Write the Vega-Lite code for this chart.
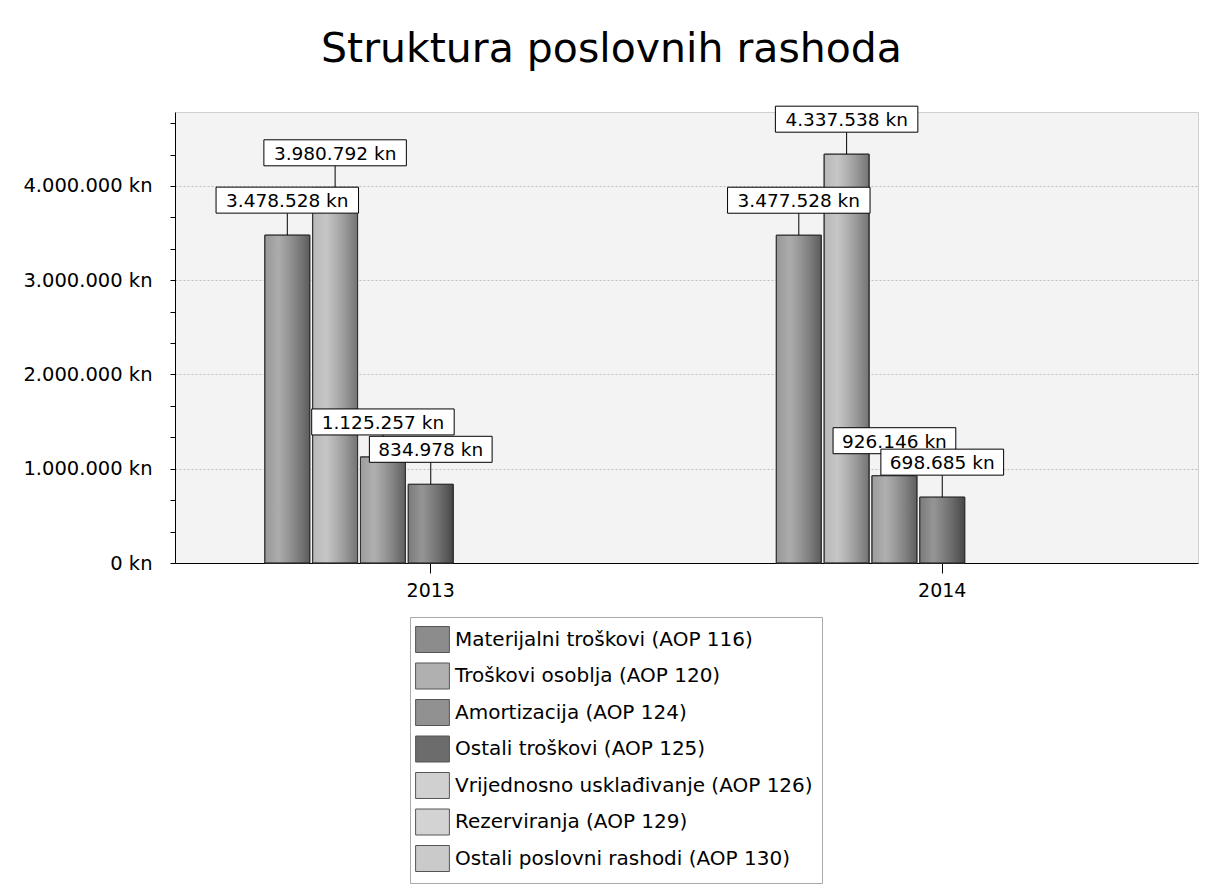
{
  "$schema": "https://vega.github.io/schema/vega-lite/v6.json",
  "width": 1023,
  "height": 451,
  "autosize": "none",
  "padding": {"left": 175, "top": 112, "right": 13, "bottom": 332},
  "background": "white",
  "title": {
    "text": "Struktura poslovnih rashoda",
    "font": "DejaVu Sans",
    "fontSize": 41,
    "fontWeight": "normal",
    "color": "black",
    "anchor": "middle",
    "dx": -75,
    "offset": 33
  },
  "data": {
    "values": [
      {"year": "2013", "series": "Materijalni troškovi (AOP 116)", "value": 3478528, "label": "3.478.528 kn"},
      {"year": "2013", "series": "Troškovi osoblja (AOP 120)", "value": 3980792, "label": "3.980.792 kn"},
      {"year": "2013", "series": "Amortizacija (AOP 124)", "value": 1125257, "label": "1.125.257 kn"},
      {"year": "2013", "series": "Ostali troškovi (AOP 125)", "value": 834978, "label": "834.978 kn"},
      {"year": "2014", "series": "Materijalni troškovi (AOP 116)", "value": 3477528, "label": "3.477.528 kn"},
      {"year": "2014", "series": "Troškovi osoblja (AOP 120)", "value": 4337538, "label": "4.337.538 kn"},
      {"year": "2014", "series": "Amortizacija (AOP 124)", "value": 926146, "label": "926.146 kn"},
      {"year": "2014", "series": "Ostali troškovi (AOP 125)", "value": 698685, "label": "698.685 kn"}
    ]
  },
  "encoding": {
    "x": {
      "field": "year", "type": "nominal",
      "scale": {"paddingInner": 0.34, "paddingOuter": 0.17},
      "axis": {
        "title": null, "labelAngle": 0, "labelFont": "DejaVu Sans", "labelFontSize": 19,
        "labelColor": "black", "tickColor": "black", "tickSize": 10, "domainColor": "black",
        "labelPadding": 8, "grid": false
      }
    },
    "xOffset": {
      "field": "series", "type": "nominal",
      "scale": {
        "domain": ["Materijalni troškovi (AOP 116)", "Troškovi osoblja (AOP 120)", "Amortizacija (AOP 124)", "Ostali troškovi (AOP 125)", "Vrijednosno usklađivanje (AOP 126)", "Rezerviranja (AOP 129)", "Ostali poslovni rashodi (AOP 130)"],
        "paddingInner": 0.06, "paddingOuter": 0.06
      }
    },
    "y": {
      "field": "value", "type": "quantitative",
      "scale": {"domain": [0, 4785000], "nice": false},
      "axis": {
        "title": null,
        "values": [0, 333333, 666667, 1000000, 1333333, 1666667, 2000000, 2333333, 2666667, 3000000, 3333333, 3666667, 4000000, 4333333, 4666667],
        "labelExpr": "datum.value % 1000000 === 0 ? replace(format(datum.value, ','), regexp(',', 'g'), '.') + ' kn' : ''",
        "labelFont": "DejaVu Sans", "labelFontSize": 19.5, "labelColor": "black",
        "tickColor": "black", "domainColor": "black",
        "tickSize": 5,
        "labelPadding": 18,
        "grid": true, "gridColor": "#bdbdbd", "gridDash": [2, 2],
        "gridOpacity": {"condition": {"test": "datum.value % 1000000 === 0", "value": 1}, "value": 0}
      }
    }
  },
  "layer": [
    {
      "mark": {"type": "bar", "stroke": "#333333", "strokeWidth": 1},
      "encoding": {
        "color": {
          "field": "series", "type": "nominal",
          "scale": {
            "domain": ["Materijalni troškovi (AOP 116)", "Troškovi osoblja (AOP 120)", "Amortizacija (AOP 124)", "Ostali troškovi (AOP 125)", "Vrijednosno usklađivanje (AOP 126)", "Rezerviranja (AOP 129)", "Ostali poslovni rashodi (AOP 130)"],
            "range": ["#8c8c8c", "#b0b0b0", "#919191", "#6c6c6c", "#d0d0d0", "#d3d3d3", "#cacaca"]
          },
          "legend": {
            "title": null, "orient": "none", "legendX": 235, "legendY": 505,
            "direction": "vertical",
            "labelFont": "DejaVu Sans", "labelFontSize": 20, "labelColor": "black",
            "labelLimit": 450, "labelOffset": 9,
            "symbolType": "M-1.3,-1H1.3V1H-1.3Z", "symbolSize": 676,
            "symbolStrokeColor": "#555555", "symbolStrokeWidth": 1, "symbolOpacity": 1,
            "rowPadding": 5.5, "padding": 9,
            "fillColor": "white", "strokeColor": "#aaaaaa"
          }
        }
      }
    },
    {
      "mark": {
        "type": "bar",
        "fill": {
          "gradient": "linear", "x1": 0, "x2": 1, "y1": 0, "y2": 0,
          "stops": [
            {"offset": 0, "color": "rgba(255,255,255,0.10)"},
            {"offset": 0.3, "color": "rgba(255,255,255,0.28)"},
            {"offset": 1, "color": "rgba(0,0,0,0.35)"}
          ]
        },
        "stroke": "#333333", "strokeWidth": 1
      }
    },
    {
      "mark": {"type": "rule", "color": "black", "strokeWidth": 1, "y2Offset": -22},
      "encoding": {"y2": {"field": "value"}}
    },
    {
      "transform": [{"filter": "datum.series !== 'Ostali troškovi (AOP 125)' && length(datum.label) > 10"}],
      "mark": {"type": "point", "shape": "M-5.48,-1H5.48V1H-5.48Z", "size": 676, "filled": true, "fill": "white", "stroke": "black", "strokeWidth": 1, "opacity": 1, "yOffset": -35}
    },
    {
      "transform": [{"filter": "datum.series !== 'Ostali troškovi (AOP 125)' && length(datum.label) <= 10"}],
      "mark": {"type": "point", "shape": "M-4.72,-1H4.72V1H-4.72Z", "size": 676, "filled": true, "fill": "white", "stroke": "black", "strokeWidth": 1, "opacity": 1, "yOffset": -35}
    },
    {
      "transform": [{"filter": "datum.series !== 'Ostali troškovi (AOP 125)'"}],
      "mark": {"type": "text", "font": "DejaVu Sans", "fontSize": 18.5, "color": "black", "baseline": "middle", "align": "center", "yOffset": -34},
      "encoding": {"text": {"field": "label"}}
    },
    {
      "transform": [{"filter": "datum.series === 'Ostali troškovi (AOP 125)'"}],
      "mark": {"type": "point", "shape": "M-4.72,-1H4.72V1H-4.72Z", "size": 676, "filled": true, "fill": "white", "stroke": "black", "strokeWidth": 1, "opacity": 1, "yOffset": -35}
    },
    {
      "transform": [{"filter": "datum.series === 'Ostali troškovi (AOP 125)'"}],
      "mark": {"type": "text", "font": "DejaVu Sans", "fontSize": 18.5, "color": "black", "baseline": "middle", "align": "center", "yOffset": -34},
      "encoding": {"text": {"field": "label"}}
    }
  ],
  "config": {
    "view": {"fill": "#f3f3f3", "stroke": "#d0d0d0"}
  }
}
